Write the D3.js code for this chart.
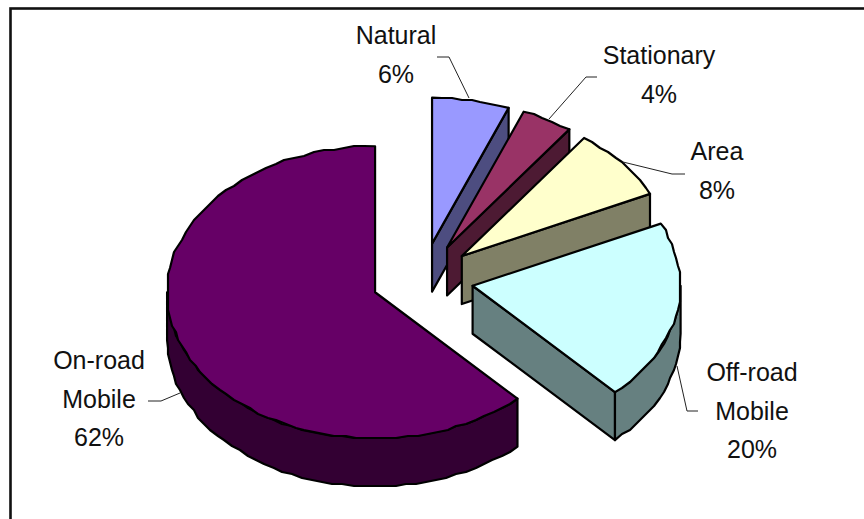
<!DOCTYPE html>
<html>
<head>
<meta charset="utf-8">
<script src="https://cdn.jsdelivr.net/npm/d3@7"></script>
<style>
  html, body { margin: 0; padding: 0; background: #fff; }
  svg { display: block; }
  text { font-family: "Liberation Sans", Arial, sans-serif; font-size: 25px; fill: #111; text-anchor: middle; }
</style>
</head>
<body>
<svg id="chart" width="864" height="519"></svg>
<script>
// Emission sources, clockwise from twelve o'clock
const categories = ["Natural", "Stationary", "Area", "Off-road Mobile", "On-road Mobile"];
const shares = [6, 4, 8, 20, 62];
const topColors = ["#9999ff", "#993366", "#ffffcc", "#ccffff", "#660066"];
const wallColors = ["#4d4d80", "#4d1a33", "#808066", "#668080", "#330033"];

// Label text lines and callouts, one entry per slice
const labelLines = [["Natural", "6%"], ["Stationary", "4%"], ["Area", "8%"], ["Off-road", "Mobile", "20%"], ["On-road", "Mobile", "62%"]];
const labelAnchors = [[396, 44], [659, 64], [717, 160], [752, 381], [99, 369]];
const leaderPaths = [
  [[437, 57], [449, 57], [469, 98]],
  [[597, 77], [586, 77], [549, 119]],
  [[685, 174], [672, 174], [623, 162]],
  [[698, 411], [687, 411], [677, 366]],
  [[148, 401], [161, 401], [180, 393]]
];

const width = 864, height = 519;
const radiusX = 208, radiusY = 146, depth = 48;
const center = [422.5, 279];
const explodeX = 51, explodeY = 36;

const svg = d3.select("#chart");

// Chart frame; its right and bottom sides run past the page edge
svg.append("rect").attr("x", 10.5).attr("y", 8.5).attr("width", 870).attr("height", 530)
  .attr("fill", "#fff").attr("stroke", "#111").attr("stroke-width", 2.6);

const arcs = d3.pie().sort(null).value(d => d)(shares);

// Elliptical projection of the tilted disc; angles run clockwise from the top
const rimX = d3.scaleLinear().domain([-1, 1]).range([-radiusX, radiusX]);
const rimY = d3.scaleLinear().domain([-1, 1]).range([-radiusY, radiusY]);
const rim = (apex, a) => [apex[0] + rimX(Math.sin(a)), apex[1] + rimY(-Math.cos(a))];
const lower = p => [p[0], p[1] + depth];

// Short chords snapped to a small grid, which gives the rim its slightly uneven outline
const rimPoints = (apex, a0, a1) => {
  const n = Math.max(2, Math.round((a1 - a0) / 0.05));
  return d3.range(n + 1).map(i => {
    const p = rim(apex, a0 + (a1 - a0) * i / n);
    if (i === 0 || i === n) return p;
    return [Math.round(p[0] / 2) * 2, Math.round(p[1] / 2) * 2];
  });
};

const line = d3.line();
const outline = g => g.attr("stroke", "#000").attr("stroke-width", 2.2).attr("stroke-linejoin", "round");

arcs.forEach((d, i) => {
  const mid = (d.startAngle + d.endAngle) / 2;
  const apex = [center[0] + explodeX * Math.sin(mid), center[1] - explodeY * Math.cos(mid)];
  const g = svg.append("g").attr("class", "slice").call(outline);

  // Radial side wall facing the viewer
  [[d.startAngle, -1], [d.endAngle, 1]].forEach(([a, side]) => {
    if (side * Math.sin(a) > 1e-6) {
      const p = rim(apex, a);
      g.append("path").attr("d", line([apex, p, lower(p), lower(apex)]) + "Z").attr("fill", wallColors[i]);
    }
  });

  // Curved outer wall on the front half of the disc
  const from = Math.max(d.startAngle, Math.PI / 2);
  const to = Math.min(d.endAngle, Math.PI * 1.5);
  if (to > from) {
    const pts = rimPoints(apex, from, to);
    g.append("path").attr("d", line(pts.concat(pts.slice().reverse().map(lower))) + "Z").attr("fill", wallColors[i]);
  }

  // Top face
  g.append("path").attr("d", line([apex].concat(rimPoints(apex, d.startAngle, d.endAngle))) + "Z").attr("fill", topColors[i]);
});

// Callout lines
svg.append("g").selectAll("path").data(leaderPaths).join("path")
  .attr("d", d => line(d)).attr("fill", "none").attr("stroke", "#222").attr("stroke-width", 1);

// Data labels
const labels = svg.append("g").selectAll("text").data(labelLines).join("text")
  .attr("transform", (d, i) => `translate(${labelAnchors[i][0]},${labelAnchors[i][1]})`);
labels.selectAll("tspan").data(d => d).join("tspan")
  .attr("x", 0).attr("y", (d, i) => i * 38.5).text(d => d);
</script>
</body>
</html>
